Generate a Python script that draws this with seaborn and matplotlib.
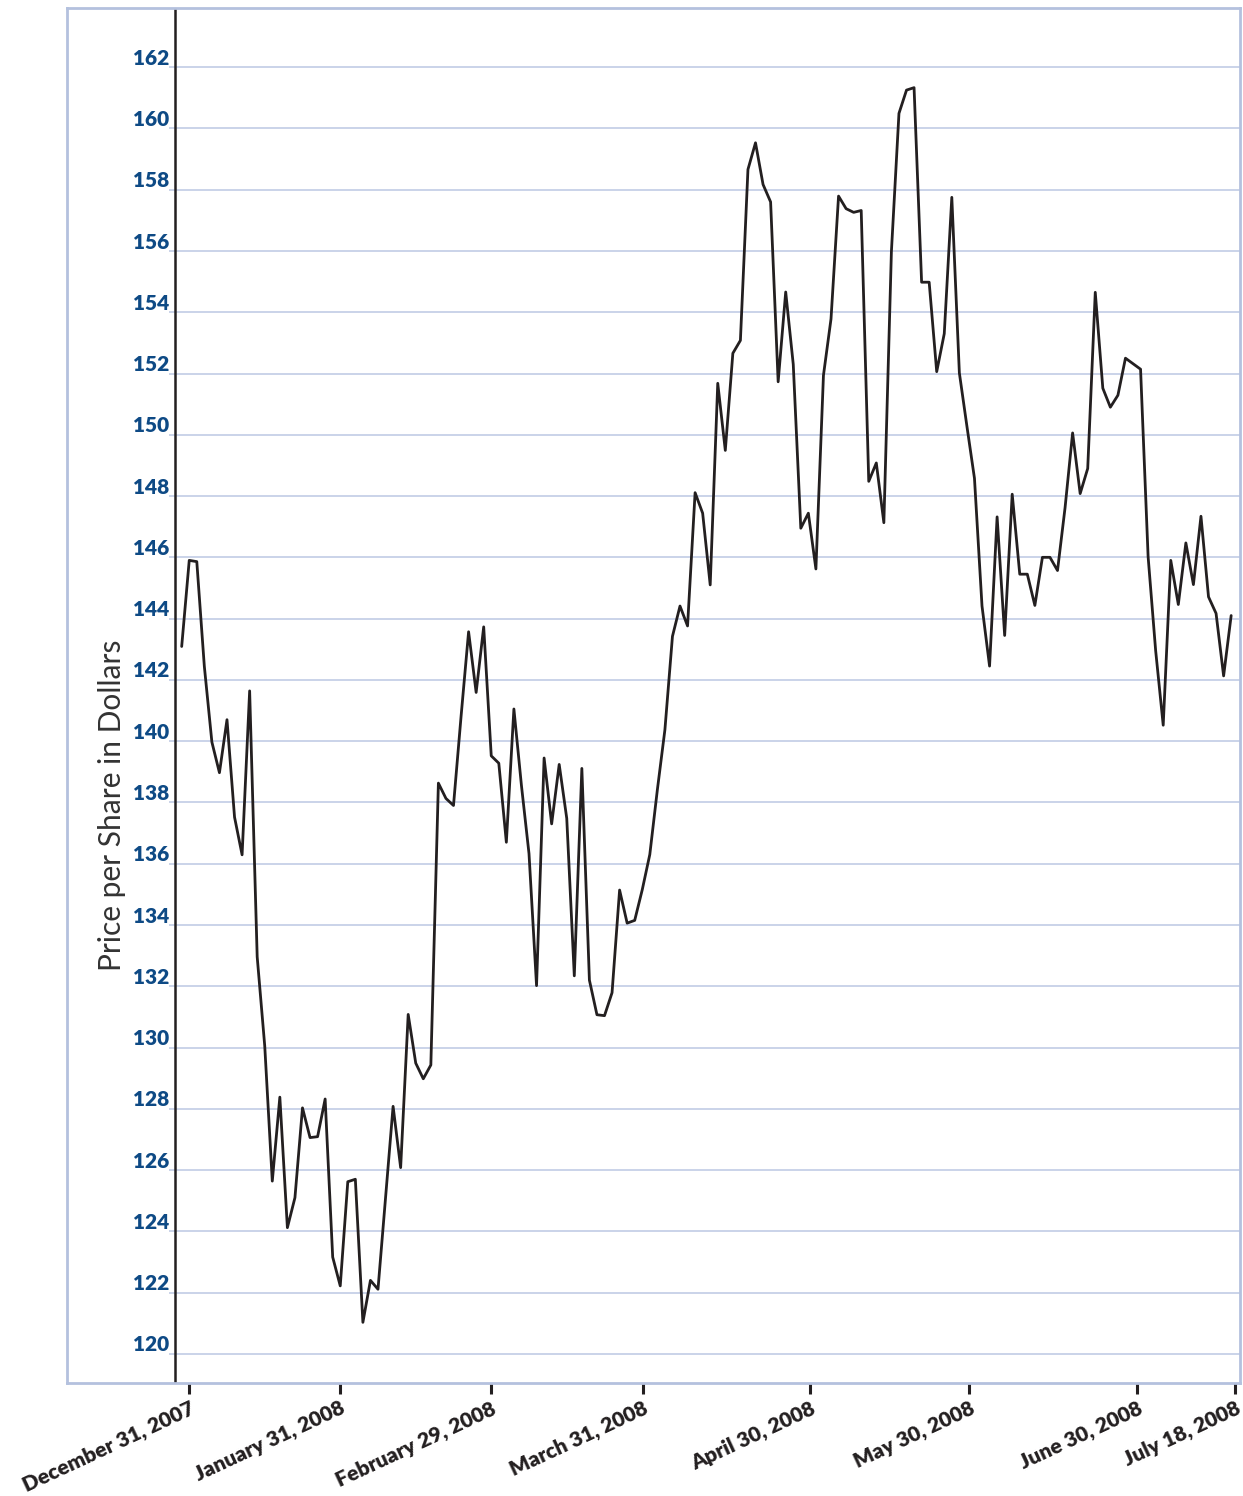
import numpy as np
import pandas as pd
import matplotlib
matplotlib.use("Agg")
import matplotlib.pyplot as plt
import seaborn as sns

# daily closing price, one value per trading day (Dec 28, 2007 -> Jul 18, 2008)
dec_2007 = [143.09, 145.90]
jan_2008 = [145.86, 142.44, 139.97, 138.97, 140.70, 137.52, 136.29, 141.64, 132.96, 130.05,
            125.64, 128.38, 124.12, 125.10, 128.03, 127.06, 127.09, 128.32, 123.16, 122.22,
            125.62]
feb_2008 = [125.70, 121.03, 122.40, 122.11, 125.10, 128.08, 126.08, 131.08, 129.49, 128.98,
            129.43, 138.63, 138.13, 137.90, 140.80, 143.57, 141.59, 143.73, 139.52, 139.28]
mar_2008 = [136.70, 141.05, 138.55, 136.33, 132.02, 139.45, 137.30, 139.24, 137.48, 132.34,
            139.11, 132.20, 131.07, 131.04, 131.79, 135.14, 134.06, 134.15, 135.15, 136.30]
apr_2008 = [138.41, 140.37, 143.42, 144.41, 143.76, 148.11, 147.44, 145.10, 151.68, 149.49,
            152.66, 153.08, 158.66, 159.53, 158.17, 157.60, 151.73, 154.66, 152.30, 146.95,
            147.44, 145.62]
may_2008 = [151.94, 153.78, 157.79, 157.38, 157.26, 157.32, 148.48, 149.08, 147.13, 155.98,
            160.49, 161.25, 161.33, 154.98, 154.98, 152.06, 153.30, 157.75, 152.02, 150.28,
            148.58]
jun_2008 = [144.41, 142.45, 147.32, 143.45, 148.06, 145.45, 145.45, 144.43, 146.00, 146.00,
            145.57, 147.62, 150.06, 148.08, 148.90, 154.65, 151.52, 150.90, 151.29, 152.50,
            152.32]
jul_2008 = [152.14, 146.02, 142.95, 140.52, 145.90, 144.46, 146.47, 145.11, 147.34, 144.71,
            144.17, 142.13, 144.10]

price = dec_2007 + jan_2008 + feb_2008 + mar_2008 + apr_2008 + may_2008 + jun_2008 + jul_2008
day = np.arange(len(price))

tick_pos = [0.97, 20.97, 40.97, 61.07, 83.2, 104.3, 126.5, 139.5]
tick_labels = ["December 31, 2007", "January 31, 2008", "February 29, 2008", "March 31, 2008",
               "April 30, 2008", "May 30, 2008", "June 30, 2008", "July 18, 2008"]
y_ticks = list(range(120, 163, 2))

sns.set_theme(style="white")
plt.rcParams['font.family'] = ['Lato', 'DejaVu Sans']

W, H = 1243, 1496
fig = plt.figure(figsize=(W / 100, H / 100), dpi=100)
fig.patch.set_facecolor("white")
# axes box = the light blue frame
ax = fig.add_axes([67 / W, 1 - 1383 / H, (1240 - 67) / W, (1383 - 8) / H])

frame_col = "#b4c1de"
grid_col = "#bcc7e3"
ink = "#231f20"

x_left, x_right = -15.19, 140.17
grid_start = -1.68

ax.hlines(y_ticks, grid_start, x_right, color=grid_col, lw=1.1, zorder=0)
ax.axvline(-0.89, color=ink, lw=1.8, zorder=2)

df = pd.DataFrame({"day": day, "price": price})
sns.lineplot(data=df, x="day", y="price", ax=ax, color=ink, linewidth=2.0, zorder=3)

ax.set_xlim(x_left, x_right)
ax.set_ylim(119.05, 163.93)

for v in y_ticks:
    ax.text(grid_start, v + 0.08, str(v), ha="right", va="baseline",
            fontsize=15, fontweight="heavy", color="#0e4a85")

ax.set_yticks([])
ax.set_xticks(tick_pos)
ax.set_xticklabels(tick_labels, rotation=25, ha="right", rotation_mode="anchor",
                   fontsize=15.2, fontweight="heavy", color=ink)
ax.tick_params(axis="x", length=8, width=2.2, color=ink, direction="out", pad=3, bottom=True)

for s in ax.spines.values():
    s.set_color(frame_col)
    s.set_linewidth(2)

ax.set_xlabel("")
ax.set_ylabel("")
ax.text(0.0384, 0.4204, "Price per Share in Dollars", transform=ax.transAxes,
        rotation=90, ha="center", va="center", fontsize=21.5, color="#333333")

fig.savefig("out.png", dpi=100, facecolor="white")
